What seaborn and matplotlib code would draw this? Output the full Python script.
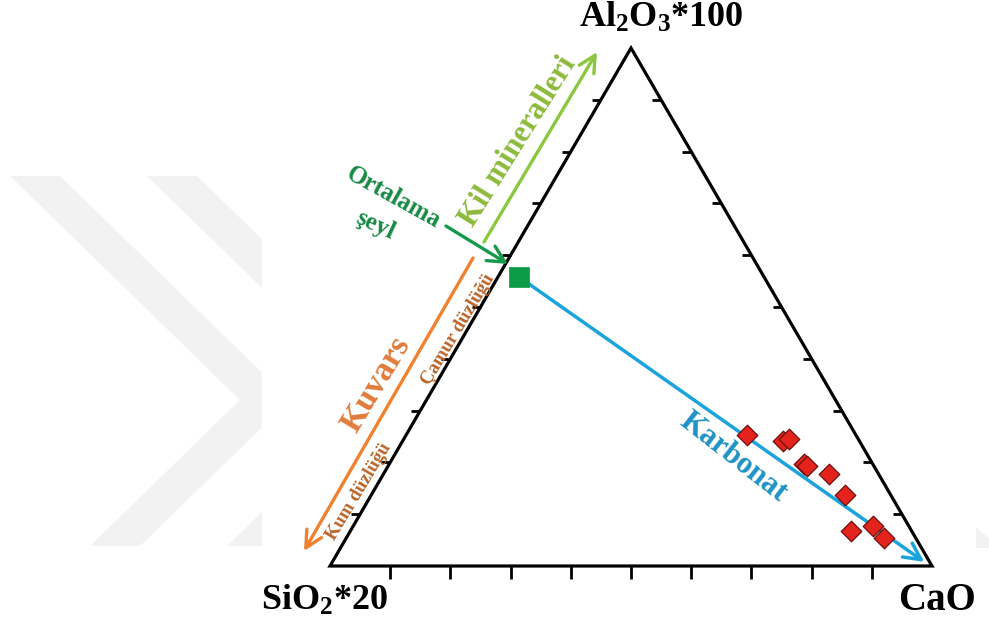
import numpy as np
import pandas as pd
import matplotlib
matplotlib.use("Agg")
import matplotlib.pyplot as plt
import seaborn as sns
from matplotlib.patches import Polygon

# ---------------- data (percent of SiO2*20 + CaO + Al2O3*100) ----------------
sample_sio2 = [18.2, 12.7, 11.5, 11.4, 11.1, 8.2, 7.5, 10.0, 5.9, 5.2]
sample_al2o3 = [25.2, 24.2, 24.5, 19.6, 19.3, 17.8, 13.8, 6.8, 7.7, 5.4]
sample_cao = [56.6, 63.1, 64.0, 69.0, 69.6, 74.0, 78.7, 83.2, 86.4, 89.4]

shale_sio2 = [40.7]
shale_al2o3 = [55.8]
shale_cao = [3.5]

apex_labels = ["SiO$_2$*20", "CaO", "Al$_2$O$_3$*100"]
tick_fracs = [0.1, 0.2, 0.3, 0.4, 0.5, 0.6, 0.7, 0.8, 0.9]


def to_xy(si, al, ca):
    si, al, ca = np.asarray(si, float), np.asarray(al, float), np.asarray(ca, float)
    tot = si + al + ca
    return (ca + al / 2) / tot, al / tot


sx, sy = to_xy(sample_sio2, sample_al2o3, sample_cao)
hx, hy = to_xy(shale_sio2, shale_al2o3, shale_cao)
samples = pd.DataFrame({"x": sx, "y": sy})
shale = pd.DataFrame({"x": hx, "y": hy})

# ---------------- figure ----------------
sns.set_theme(style="white")
plt.rcParams["font.family"] = ["Liberation Serif", "DejaVu Serif"]
plt.rcParams["mathtext.default"] = "regular"

W, H = 989, 626
fig = plt.figure(figsize=(W / 100, H / 100), dpi=100)
ax = fig.add_axes([0, 0, 1, 1])
X0, Y0, SW, SH = 330, 566, 602, 518  # triangle placement in pixels
ax.set_xlim(-X0 / SW, (W - X0) / SW)
ax.set_ylim(-(H - Y0) / SH, Y0 / SH)
ax.axis("off")


def P(px, py):
    return ((px - X0) / SW, (Y0 - py) / SH)


# faint watermark chevrons in the background
wm = "#f2f2f2"
for dx in (0, 137):
    pts = [(10 + dx, 176), (60 + dx, 176), (290 + dx, 400), (140 + dx, 546),
           (90 + dx, 546), (240 + dx, 400)]
    ax.add_patch(Polygon([P(*p) for p in pts], closed=True, color=wm, lw=0, zorder=0))
ax.add_patch(Polygon([P(*p) for p in [(262, 0), (975, 0), (975, 626), (262, 626)]],
                     closed=True, color="white", lw=0, zorder=0.5))
ax.add_patch(Polygon([P(*p) for p in [(976, 527), (989, 538), (989, 548), (976, 548)]],
                     closed=True, color=wm, lw=0, zorder=0.6))

# triangle
tri = Polygon([(0, 0), (1, 0), (0.5, 1)], closed=True, fill=False, ec="black",
              lw=2.3, joinstyle="miter", zorder=3)
ax.add_patch(tri)

# ticks
tb = 13 / SH
ts = 9 / SW
for f in tick_fracs:
    ax.plot([f, f], [0, -tb], color="black", lw=2.0, zorder=3, solid_capstyle="butt")
    ax.plot([1 - f / 2, 1 - f / 2 - ts], [f, f], color="black", lw=2.0, zorder=3,
            solid_capstyle="butt")
    ax.plot([f / 2, f / 2 - ts], [f, f], color="black", lw=2.0, zorder=3,
            solid_capstyle="butt")

# apex labels
lab_kw = dict(fontweight="bold", color="black", zorder=5, ha="center", va="center")
ax.text(*P(324, 601), apex_labels[0], fontsize=26, **lab_kw)
ax.text(*P(937, 600), apex_labels[1], fontsize=28, **lab_kw)
ax.text(*P(661, 18), apex_labels[2], fontsize=26, **lab_kw)


# arrows
def arrow(p0, p1, color, lw=2.4):
    ax.annotate("", xy=p1, xytext=p0,
                arrowprops=dict(arrowstyle="->,head_length=0.75,head_width=0.38",
                                color=color, lw=lw, shrinkA=0, shrinkB=0,
                                mutation_scale=16), zorder=4)


blue = "#1aa3dc"
arrow(P(484, 242), P(597, 52), "#8dc63f")
arrow(P(446, 226), P(508, 264), "#149a4a")
arrow(P(473, 258), P(304, 551), "#f0812f")
arrow((hx[0], hy[0]), (1 - 0.013, 0.008), blue, lw=2.5)

# points
sns.scatterplot(data=samples, x="x", y="y", marker="D", s=110, color="#e3231c",
                edgecolor="#6b1010", linewidth=0.9, ax=ax, zorder=6, legend=False)
sns.scatterplot(data=shale, x="x", y="y", marker="s", s=200, color="#0b9a45",
                edgecolor="#0b9a45", linewidth=0.5, ax=ax, zorder=6, legend=False)

# annotation texts
txt_kw = dict(fontweight="bold", ha="center", va="center", rotation_mode="anchor", zorder=5)
ax.text(*P(518, 141), "Kil mineralleri", color="#8dba3c", fontsize=22, rotation=58, **txt_kw)
ax.text(*P(393, 198), "Ortalama", color="#178a45", fontsize=18, rotation=-29, **txt_kw)
ax.text(*P(375, 225), "şeyl", color="#178a45", fontsize=18, rotation=-25, **txt_kw)
ax.text(*P(376, 384), "Kuvars", color="#e07b3c", fontsize=24, rotation=59, **txt_kw)
ax.text(*P(458, 330), "Çamur düzlüğü", color="#b8652a", fontsize=13.5, rotation=59, **txt_kw)
ax.text(*P(359, 492), "Kum düzlüğü", color="#b8652a", fontsize=13.5, rotation=59, **txt_kw)
ax.text(*P(733, 457), "Karbonat", color="#1e92c6", fontsize=22, rotation=-38, **txt_kw)

fig.savefig("out.png", dpi=100, facecolor="white")
